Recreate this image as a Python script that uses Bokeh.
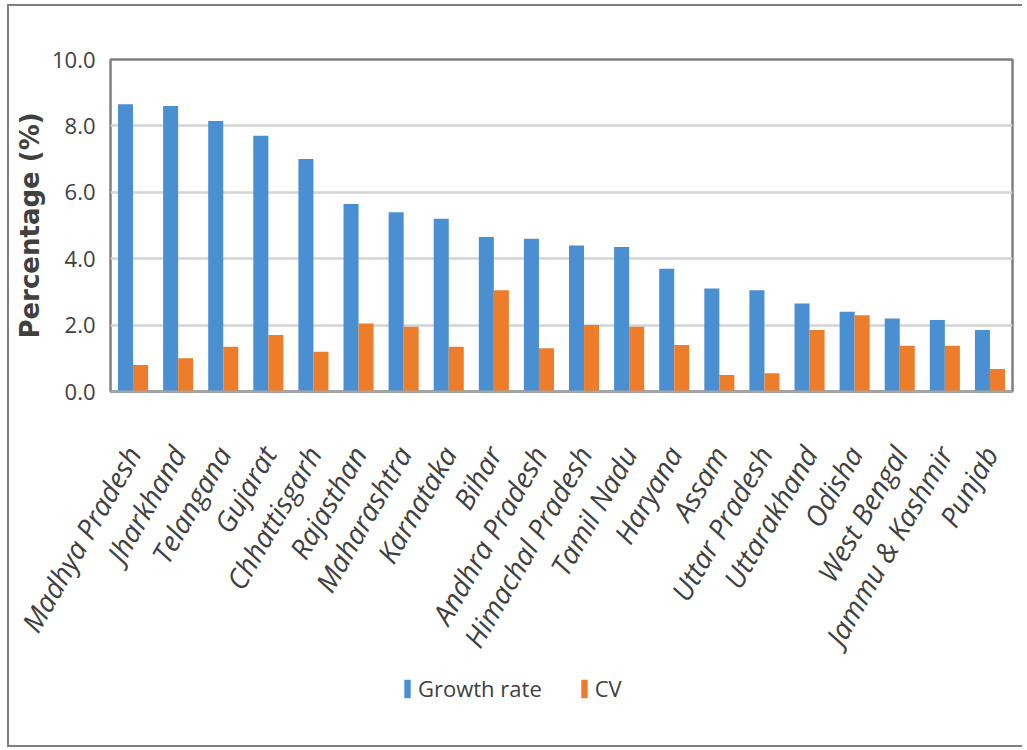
import math

from bokeh.embed import file_html
from bokeh.layouts import column
from bokeh.models import (ColumnDataSource, FactorRange, FixedTicker, Legend,
                          LegendItem, NumeralTickFormatter, Range1d)
from bokeh.plotting import figure
from bokeh.resources import INLINE
from bokeh.transform import dodge

# State-wise growth rate and coefficient of variation (%)
states = ["Madhya Pradesh", "Jharkhand", "Telangana", "Gujarat", "Chhattisgarh",
          "Rajasthan", "Maharashtra", "Karnataka", "Bihar", "Andhra Pradesh",
          "Himachal Pradesh", "Tamil Nadu", "Haryana", "Assam", "Uttar Pradesh",
          "Uttarakhand", "Odisha", "West Bengal", "Jammu & Kashmir", "Punjab"]
growth_rate = [8.65, 8.6, 8.15, 7.7, 7.0, 5.65, 5.4, 5.2, 4.65, 4.6,
               4.4, 4.35, 3.7, 3.1, 3.05, 2.65, 2.4, 2.2, 2.15, 1.85]
cv = [0.8, 1.0, 1.35, 1.7, 1.2, 2.05, 1.95, 1.35, 3.05, 1.3,
      2.0, 1.95, 1.4, 0.5, 0.55, 1.85, 2.3, 1.38, 1.38, 0.68]
y_ticks = [0, 2, 4, 6, 8, 10]
series_names = ["Growth rate", "CV"]

BLUE = "#4a8fd1"
ORANGE = "#ee7d2b"
TEXT = "#404040"

source = ColumnDataSource(dict(state=states, growth=growth_rate, cv=cv))

p = figure(x_range=FactorRange(factors=states, range_padding=0),
           y_range=Range1d(0, 10),
           width=1013, height=662,
           output_backend="svg", toolbar_location=None,
           min_border_left=101, min_border_right=10,
           min_border_top=53, min_border_bottom=277)

bw = 1 / 3
p.vbar(x=dodge("state", -bw / 2, range=p.x_range), top="growth",
       width=bw, source=source, fill_color=BLUE, line_color=None)
p.vbar(x=dodge("state", bw / 2, range=p.x_range), top="cv",
       width=bw, source=source, fill_color=ORANGE, line_color=None)

# plot area and grid
p.outline_line_color = "#7f7f7f"
p.outline_line_width = 2.5
p.background_fill_color = "white"
p.border_fill_color = "white"
p.xgrid.grid_line_color = None
p.ygrid.grid_line_color = "#d4d4d4"
p.ygrid.grid_line_width = 2.5

# y axis
p.yaxis.ticker = FixedTicker(ticks=y_ticks)
p.yaxis.formatter = NumeralTickFormatter(format="0.0")
p.yaxis.axis_label = "Percentage (%)"
p.yaxis.axis_label_text_font = "DejaVu Sans"
p.yaxis.axis_label_text_font_style = "bold"
p.yaxis.axis_label_text_font_size = "26px"
p.yaxis.axis_label_text_color = TEXT
p.yaxis.axis_label_standoff = 4
p.yaxis.major_label_text_font = "Open Sans"
p.yaxis.major_label_text_font_size = "22px"
p.yaxis.major_label_text_color = TEXT
p.yaxis.major_label_standoff = 15
p.yaxis.major_tick_out = 0
p.yaxis.major_tick_in = 0
p.yaxis.minor_tick_out = 0
p.yaxis.minor_tick_in = 0
p.yaxis.axis_line_color = None

# x axis
p.xaxis.major_label_orientation = math.pi / 3
p.xaxis.major_label_text_font = "Open Sans"
p.xaxis.major_label_text_font_style = "italic"
p.xaxis.major_label_text_font_size = "28px"
p.xaxis.major_label_text_color = TEXT
p.xaxis.major_label_standoff = 57
p.xaxis.major_tick_out = 0
p.xaxis.major_tick_in = 0
p.xaxis.axis_line_color = "#a6a6a6"
p.xaxis.axis_line_width = 2

# legend strip under the chart
leg = figure(width=1013, height=77, x_range=Range1d(0, 1), y_range=Range1d(0, 1),
             output_backend="svg", toolbar_location=None,
             x_axis_location=None, y_axis_location=None,
             min_border=0)
leg.outline_line_color = None
leg.grid.visible = False
# zero-height placeholder bars, only used for the legend swatches
swatch_src = ColumnDataSource(dict(x=[0], top=[0]))
sw_growth = leg.vbar(x="x", top="top", width=0, source=swatch_src,
                     fill_color=BLUE, line_color=None)
sw_cv = leg.vbar(x="x", top="top", width=0, source=swatch_src,
                 fill_color=ORANGE, line_color=None)
legend = Legend(items=[LegendItem(label=series_names[0], renderers=[sw_growth]),
                       LegendItem(label=series_names[1], renderers=[sw_cv])],
                location=(293, 42), orientation="horizontal",
                padding=0, margin=0, spacing=38, label_standoff=7,
                glyph_width=8, glyph_height=23,
                label_text_font="Open Sans",
                label_text_font_size="22px", label_text_color=TEXT,
                border_line_color=None, background_fill_alpha=0)
leg.add_layout(legend)

page = column(p, leg, spacing=0,
              styles={"border": "2px solid #7f7f7f", "border-right": "none",
                      "margin-left": "7px", "margin-top": "4px"})

open("out.html", "w").write(file_html(page, INLINE))
